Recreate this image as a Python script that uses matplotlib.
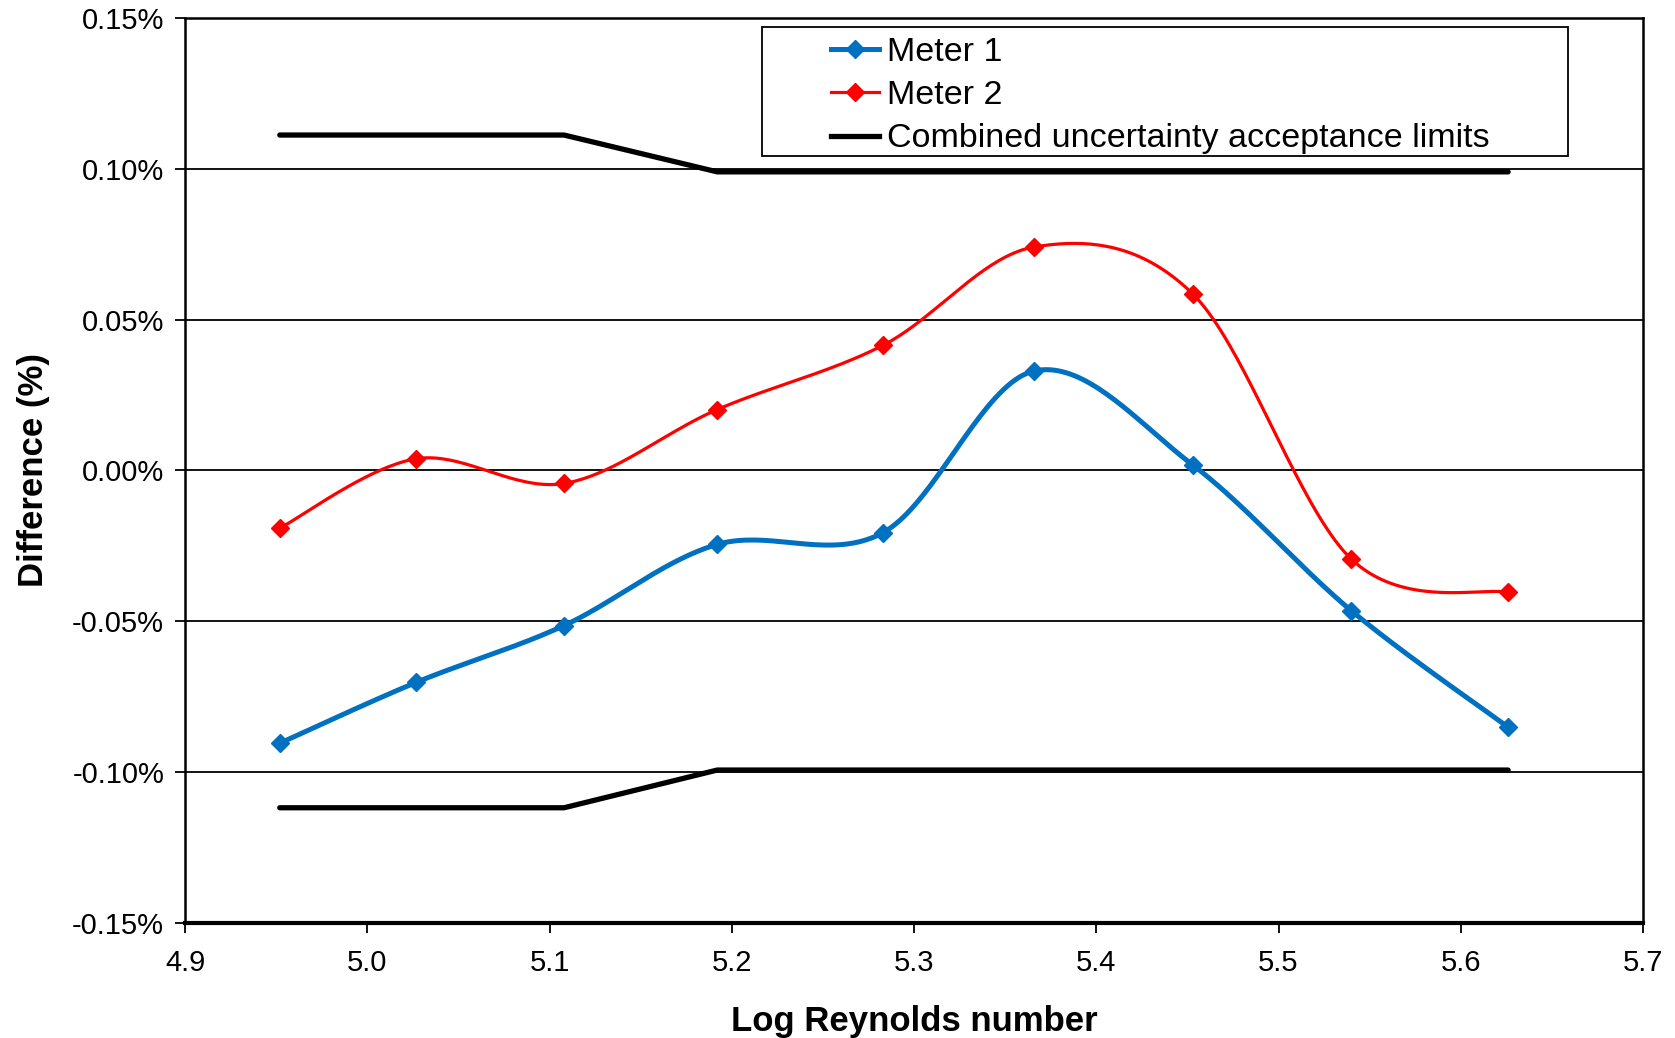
import numpy as np
import matplotlib
matplotlib.use("Agg")
import matplotlib.pyplot as plt
from matplotlib.patches import Rectangle
from matplotlib.ticker import FixedLocator, FuncFormatter

# ---- data ----
log_re = [4.952, 5.027, 5.108, 5.192, 5.283, 5.366, 5.453, 5.540, 5.626]
meter1 = [-0.0904, -0.0702, -0.0514, -0.0245, -0.0206, 0.0330, 0.0018, -0.0465, -0.0851]
meter2 = [-0.0191, 0.0039, -0.0043, 0.0202, 0.0415, 0.0741, 0.0585, -0.0294, -0.0404]
upper_limit = [0.1112, 0.1112, 0.1112, 0.0990, 0.0990, 0.0990, 0.0990, 0.0990, 0.0990]
lower_limit = [-0.1118, -0.1118, -0.1118, -0.0993, -0.0993, -0.0993, -0.0993, -0.0993, -0.0993]
labels = ["Meter 1", "Meter 2", "Combined uncertainty acceptance limits"]
x_ticks = [4.9, 5.0, 5.1, 5.2, 5.3, 5.4, 5.5, 5.6, 5.7]
y_ticks = [-0.15, -0.10, -0.05, 0.0, 0.05, 0.10, 0.15]


def excel_smooth(xs, ys, n=40):
    """Excel-style smoothed line: cubic Bezier through points (Catmull-Rom)."""
    p = np.column_stack([xs, ys]).astype(float)
    m = len(p)
    out = [p[0]]
    t = np.linspace(0, 1, n)[1:]
    for i in range(m - 1):
        p0 = p[i - 1] if i > 0 else p[i]
        p1 = p[i]
        p2 = p[i + 1]
        p3 = p[i + 2] if i + 2 < m else p[i + 1]
        c1 = p1 + (p2 - p0) / 6.0
        c2 = p2 - (p3 - p1) / 6.0
        for tt in t:
            b = ((1 - tt) ** 3) * p1 + 3 * ((1 - tt) ** 2) * tt * c1 + 3 * (1 - tt) * tt ** 2 * c2 + tt ** 3 * p2
            out.append(b)
    out = np.array(out)
    return out[:, 0], out[:, 1]


plt.rcParams['font.family'] = ['Liberation Sans', 'DejaVu Sans']

fig = plt.figure(figsize=(16.75, 10.38), dpi=100)
ax = fig.add_axes([185 / 1675, 1 - 923 / 1038, 1458 / 1675, 905 / 1038])

blue = '#0070C0'
red = '#FF0000'

sx, sy = excel_smooth(log_re, meter1)
ax.plot(sx, sy, color=blue, lw=3.6, zorder=4, solid_capstyle='round')
ax.plot(log_re, meter1, ls='none', marker='D', ms=9, color=blue, mec=blue, zorder=5)
sx, sy = excel_smooth(log_re, meter2)
ax.plot(sx, sy, color=red, lw=2.3, zorder=4, solid_capstyle='round')
ax.plot(log_re, meter2, ls='none', marker='D', ms=9, color=red, mec=red, zorder=5)

ax.plot(log_re, upper_limit, color='black', lw=3.8, zorder=3, solid_capstyle='round')
ax.plot(log_re, lower_limit, color='black', lw=3.8, zorder=3, solid_capstyle='round')

ax.set_xlim(4.9, 5.7)
ax.set_ylim(-0.15, 0.15)
ax.xaxis.set_major_locator(FixedLocator(x_ticks))
ax.yaxis.set_major_locator(FixedLocator(y_ticks))
ax.xaxis.set_major_formatter(FuncFormatter(lambda v, p: f"{v:.1f}"))
ax.yaxis.set_major_formatter(FuncFormatter(lambda v, p: f"{v:.2f}%".replace("-0.00", "0.00")))

ax.grid(axis='y', color='black', lw=1.3, zorder=1)
ax.tick_params(axis='both', direction='out', length=7, width=1.3, color='black',
               labelsize=21)
ax.tick_params(axis='x', pad=12)
ax.tick_params(axis='y', pad=8)
for s in ['left', 'top', 'right']:
    ax.spines[s].set_linewidth(1.8)
    ax.spines[s].set_color('black')
ax.spines['bottom'].set_linewidth(3)

ax.set_xlabel("Log Reynolds number", fontsize=25, fontweight='bold', labelpad=20)
ax.set_ylabel("Difference (%)", fontsize=25, fontweight='bold', labelpad=16)

# legend
h1, = ax.plot([], [], color=blue, lw=3.6, marker='D', ms=9)
h2, = ax.plot([], [], color=red, lw=2.3, marker='D', ms=9)
h3, = ax.plot([], [], color='black', lw=3.8)
leg = ax.legend([h1, h2, h3], labels, loc='upper left',
                bbox_to_anchor=((831 - 185) / 1458, (923 - 37) / 905),
                frameon=False, fontsize=24.5, borderpad=0, borderaxespad=0,
                handlelength=1.42, handletextpad=0.24, labelspacing=0.36,
                markerscale=1.0)
leg.set_zorder(10)
ax.add_patch(Rectangle(((762 - 185) / 1458, (923 - 156) / 905),
                       (1568 - 762) / 1458, (156 - 27) / 905,
                       transform=ax.transAxes, facecolor='white', edgecolor='black',
                       lw=1.3, zorder=9))

fig.savefig("out.png", dpi=100, facecolor='white')
